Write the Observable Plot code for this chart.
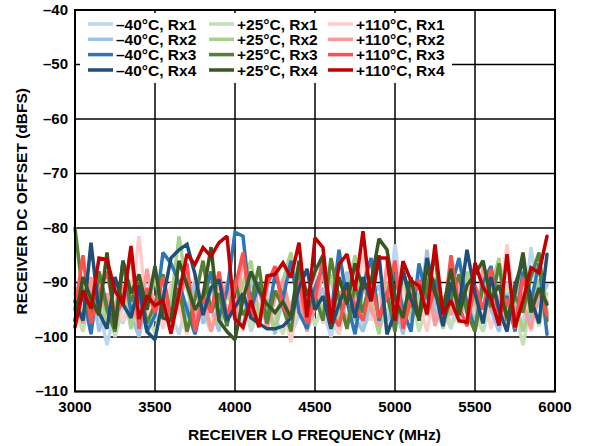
<!DOCTYPE html>
<html>
<head>
<meta charset="utf-8">
<script src="https://cdn.jsdelivr.net/npm/d3@7"></script>
<script src="https://cdn.jsdelivr.net/npm/@observablehq/plot@0.6"></script>
<style>
  html, body { margin: 0; padding: 0; background: #fff; }
  svg { display: block; }
</style>
</head>
<body>
<div id="chart"></div>
<script>
// LO frequency sample points (MHz)
const freqs = d3.range(3000, 6000, 50);

const seriesNames = ["–40°C, Rx1","–40°C, Rx2","–40°C, Rx3","–40°C, Rx4",
                     "+25°C, Rx1","+25°C, Rx2","+25°C, Rx3","+25°C, Rx4",
                     "+110°C, Rx1","+110°C, Rx2","+110°C, Rx3","+110°C, Rx4"];
const seriesColors = ["#bdd7ee","#9dc3e6","#2e75b6","#1f4e79",
                      "#c5e0b4","#a9d18e","#548235","#385723",
                      "#ffcccc","#ff9999","#ff5050","#c00000"];

const xTicks = [3000, 3500, 4000, 4500, 5000, 5500, 6000];
const yTicks = [-110, -100, -90, -80, -70, -60, -50, -40];

// DC offset (dBFS) per series
const m40rx1 = [-96.5,-93.0,-98.0,-94.5,-101.5,-95.0,-97.5,-92.0,-99.0,-94.0,
  -97.0,-91.5,-96.0,-99.5,-93.5,-97.0,-95.5,-90.5,-98.0,-94.0,
  -96.5,-92.5,-99.0,-95.0,-91.0,-97.5,-94.5,-99.5,-96.0,-92.5,
  -97.5,-95.0,-100.0,-93.5,-96.5,-91.5,-98.5,-95.5,-93.0,-97.0,
  -83.0,-94.0,-96.5,-88.5,-93.0,-97.5,-95.0,-98.5,-92.0,-96.0,
  -94.5,-99.0,-93.5,-97.0,-90.0,-95.5,-98.0,-83.5,-94.0,-96.5];
const m40rx2 = [-92.0,-97.5,-89.5,-99.0,-94.0,-98.5,-91.5,-96.0,-100.0,-93.0,
  -88.5,-95.5,-98.0,-92.0,-96.5,-90.0,-97.5,-94.5,-99.0,-91.0,
  -95.0,-98.5,-89.0,-96.0,-93.5,-99.5,-92.0,-95.5,-87.5,-97.0,
  -94.0,-91.0,-98.0,-95.5,-88.0,-96.5,-99.0,-93.0,-90.5,-97.0,
  -94.5,-99.5,-92.5,-96.0,-84.0,-95.0,-98.0,-91.5,-96.5,-93.0,
  -97.5,-89.5,-95.0,-99.0,-92.0,-96.5,-85.0,-97.0,-93.5,-90.5];
const m40rx3 = [-97.0,-92.0,-99.5,-88.0,-94.5,-98.0,-86.0,-95.5,-92.0,-99.0,
  -96.0,-84.5,-86.5,-90.0,-95.0,-99.5,-93.0,-88.0,-96.5,-91.5,
  -80.8,-81.5,-95.0,-90.0,-97.5,-88.5,-93.0,-86.0,-95.5,-98.5,
  -91.0,-87.0,-96.0,-84.0,-93.5,-99.5,-90.5,-85.5,-97.0,-92.0,
  -88.5,-95.0,-99.0,-86.5,-93.0,-89.5,-97.5,-91.0,-85.5,-94.0,
  -98.5,-90.0,-87.0,-95.5,-92.5,-99.0,-88.0,-93.5,-86.5,-99.5];
const m40rx4 = [-93.5,-97.0,-82.7,-95.5,-98.5,-89.0,-94.0,-96.5,-90.5,-99.0,
  -100.5,-93.0,-85.5,-84.0,-83.0,-88.5,-96.0,-91.0,-89.5,-97.0,
  -94.5,-92.0,-96.5,-97.5,-98.5,-98.5,-98.0,-96.5,-91.0,-87.5,
  -95.0,-92.5,-98.5,-94.0,-90.0,-96.5,-89.0,-93.5,-85.0,-99.5,
  -95.5,-88.0,-93.0,-96.5,-85.5,-91.5,-98.0,-90.0,-94.5,-84.0,
  -92.0,-97.5,-89.0,-95.0,-99.0,-90.5,-86.0,-93.0,-97.5,-84.8];
const p25rx1 = [-95.0,-99.0,-91.5,-97.0,-93.5,-100.0,-94.5,-89.5,-97.5,-95.0,
  -99.5,-92.0,-96.5,-94.0,-98.0,-91.0,-95.5,-99.0,-93.0,-97.0,
  -95.5,-90.0,-98.5,-94.5,-92.0,-96.5,-99.5,-93.5,-95.5,-91.5,
  -98.0,-94.0,-96.5,-99.5,-92.5,-97.0,-94.5,-90.5,-98.5,-95.0,
  -93.0,-97.5,-91.5,-99.0,-94.0,-96.5,-92.5,-98.0,-95.5,-90.0,
  -96.0,-99.0,-93.5,-97.5,-91.0,-95.0,-101.5,-94.0,-98.0,-92.0];
const p25rx2 = [-91.0,-96.5,-93.0,-88.5,-97.5,-94.0,-90.5,-98.5,-92.5,-95.0,
  -89.0,-96.0,-93.5,-81.5,-91.0,-97.0,-94.5,-88.0,-98.0,-92.0,
  -95.5,-90.0,-86.0,-96.5,-93.0,-99.0,-89.5,-84.5,-94.0,-97.5,
  -91.5,-95.5,-88.5,-98.0,-92.5,-85.0,-96.0,-93.5,-99.5,-90.0,
  -94.5,-87.5,-97.0,-92.0,-95.5,-89.0,-98.5,-93.5,-96.0,-88.0,
  -94.0,-97.5,-91.0,-85.5,-96.5,-92.5,-99.0,-94.0,-89.5,-95.5];
const p25rx3 = [-80.0,-92.5,-97.0,-88.0,-95.0,-99.0,-86.5,-93.5,-90.0,-97.5,
  -94.0,-88.5,-96.5,-91.0,-99.0,-93.0,-86.0,-95.5,-92.0,-98.0,
  -89.5,-96.0,-93.5,-87.0,-97.5,-91.5,-94.5,-99.0,-88.0,-95.0,
  -92.5,-97.0,-85.5,-93.0,-98.5,-90.5,-95.5,-89.0,-96.5,-92.0,
  -99.0,-87.5,-94.0,-96.5,-91.0,-85.0,-97.5,-93.0,-88.5,-95.5,
  -99.0,-90.5,-94.5,-86.5,-97.0,-92.5,-95.5,-89.0,-84.5,-97.0];
const p25rx4 = [-97.0,-89.0,-93.0,-96.0,-84.5,-98.5,-86.0,-92.0,-88.5,-95.0,
  -87.0,-96.5,-97.0,-86.0,-90.5,-95.0,-92.5,-83.5,-97.0,-99.0,
  -100.5,-93.0,-88.0,-91.5,-94.0,-95.5,-93.5,-96.5,-86.0,-92.5,
  -88.0,-85.0,-98.0,-89.0,-94.0,-86.5,-91.0,-90.0,-82.0,-84.0,
  -93.0,-96.5,-89.0,-97.0,-87.0,-92.0,-95.0,-87.5,-96.0,-90.5,
  -88.5,-86.0,-93.0,-90.5,-96.5,-92.0,-84.5,-95.5,-91.0,-94.0];
const p110rx1 = [-97.5,-93.0,-99.0,-90.5,-95.5,-92.0,-97.0,-94.5,-81.5,-96.0,
  -92.5,-98.5,-90.0,-95.0,-99.5,-88.5,-94.0,-97.5,-91.0,-96.5,
  -93.0,-99.0,-89.0,-95.5,-92.5,-98.0,-94.0,-101.0,-91.5,-96.0,
  -88.5,-97.5,-93.5,-99.5,-90.5,-95.0,-84.5,-97.0,-92.0,-98.5,
  -94.5,-90.0,-96.5,-93.5,-99.0,-91.0,-95.5,-88.0,-97.5,-93.0,
  -96.5,-90.5,-98.5,-94.0,-83.0,-95.5,-92.0,-99.0,-89.5,-95.0];
const p110rx2 = [-93.0,-97.5,-89.0,-95.0,-92.0,-98.5,-90.5,-94.5,-97.0,-87.5,
  -95.5,-91.5,-98.0,-93.5,-88.5,-96.5,-92.0,-99.0,-94.0,-90.0,
  -97.0,-85.0,-95.5,-91.0,-98.5,-93.0,-89.5,-96.0,-92.5,-99.0,
  -94.5,-88.0,-96.5,-91.5,-97.5,-93.0,-90.0,-95.0,-98.0,-86.5,
  -93.5,-97.0,-91.0,-95.5,-88.5,-98.0,-92.5,-96.0,-90.0,-94.5,
  -99.0,-87.0,-95.0,-92.5,-97.5,-90.5,-94.0,-98.5,-91.5,-93.5];
const p110rx3 = [-95.0,-85.0,-97.5,-92.0,-88.0,-96.0,-93.5,-84.0,-98.5,-91.0,
  -95.5,-89.0,-97.0,-93.0,-86.5,-99.0,-92.5,-95.5,-88.0,-96.5,
  -91.0,-84.5,-95.0,-98.0,-90.5,-87.0,-94.5,-96.5,-89.5,-97.5,
  -93.0,-85.5,-95.5,-98.0,-91.5,-94.0,-97.0,-90.0,-96.5,-92.5,
  -86.0,-98.5,-93.0,-89.5,-96.0,-91.0,-97.5,-85.0,-94.5,-98.0,
  -90.5,-95.0,-87.5,-96.5,-93.0,-98.5,-89.0,-94.0,-91.5,-96.0];
const p110rx4 = [-98.2,-91.5,-94.8,-85.5,-85.8,-91.5,-94.0,-83.3,-96.7,-92.4,
  -94.2,-93.3,-99.4,-92.0,-84.8,-86.7,-83.6,-85.2,-82.7,-81.5,
  -96.7,-98.2,-93.3,-98.2,-88.8,-88.5,-86.4,-89.1,-82.7,-96.4,
  -81.8,-83.6,-97.6,-86.7,-84.8,-91.5,-80.6,-93.3,-85.5,-85.5,
  -97.0,-86.1,-89.7,-90.6,-95.8,-83.0,-95.8,-93.3,-97.0,-97.3,
  -86.4,-90.9,-93.0,-97.9,-84.8,-98.2,-93.3,-87.3,-88.2,-81.5];

const seriesValues = [m40rx1, m40rx2, m40rx3, m40rx4,
                      p25rx1, p25rx2, p25rx3, p25rx4,
                      p110rx1, p110rx2, p110rx3, p110rx4];

// draw order: all Rx1 first, then Rx2, Rx3, Rx4 (darker traces on top)
const drawOrder = [0, 4, 8, 1, 5, 9, 2, 6, 10, 3, 7, 11];
const rows = drawOrder.flatMap(k =>
  seriesValues[k].map((v, i) => ({freq: freqs[i], dc: v, series: seriesNames[k]})));

const FONT = "'Liberation Sans', Arial, Helvetica, sans-serif";
const W = 590, H = 446;
const mL = 74.5, mR = 35.5, mT = 9.5, mB = 55;

const fmtY = d => d < 0 ? "\u2013" + Math.abs(d) : String(d);

const svg = Plot.plot({
  width: W, height: H,
  marginLeft: mL, marginRight: mR, marginTop: mT, marginBottom: mB,
  style: {fontFamily: FONT, fontSize: "15px", fontWeight: "bold", color: "#000", background: "#fff"},
  x: {domain: [3000, 6000], label: null},
  y: {domain: [-110, -40], label: null},
  color: {domain: seriesNames, range: seriesColors},
  marks: [
    Plot.gridX(xTicks, {stroke: "#000", strokeOpacity: 1, strokeWidth: 1.5}),
    Plot.gridY(yTicks, {stroke: "#000", strokeOpacity: 1, strokeWidth: 1.5}),
    Plot.lineY(rows, {x: "freq", y: "dc", z: "series", stroke: "series", strokeWidth: 3.5, strokeLinejoin: "miter", strokeMiterlimit: 2}),
    Plot.frame({stroke: "#000", strokeWidth: 2}),
    Plot.axisX(xTicks, {tickSize: 0, tickPadding: 10, tickFormat: d => String(d), label: null, fontSize: 15, fontWeight: "bold"}),
    Plot.axisY(yTicks, {tickSize: 0, tickPadding: 7, tickFormat: fmtY, label: null, fontSize: 15, fontWeight: "bold"})
  ]
});

const sel = d3.select(svg);
// axis titles
sel.append("text")
  .attr("x", (mL + (W - mR)) / 2).attr("y", 440)
  .attr("text-anchor", "middle")
  .attr("font-family", FONT).attr("font-weight", "bold").attr("font-size", 15.5)
  .attr("fill", "#000")
  .text("RECEIVER LO FREQUENCY (MHz)");
sel.append("text")
  .attr("transform", `translate(27,${(mT + (H - mB)) / 2 + 1}) rotate(-90)`)
  .attr("text-anchor", "middle")
  .attr("font-family", FONT).attr("font-weight", "bold").attr("font-size", 15.5)
  .attr("fill", "#000")
  .text("RECEIVER DC OFFSET (dBFS)");

// legend
const lg = sel.append("g").attr("text-anchor", "start");
lg.append("rect").attr("x", 80).attr("y", 13).attr("width", 372).attr("height", 70).attr("fill", "#fff");
const colX = [88, 209, 328];
const rowY = [24, 39.3, 54.6, 70];
seriesNames.forEach((name, k) => {
  const c = Math.floor(k / 4), r = k % 4;
  const x0 = colX[c], y0 = rowY[r];
  lg.append("line").attr("x1", x0).attr("x2", x0 + 25).attr("y1", y0).attr("y2", y0)
    .attr("stroke", seriesColors[k]).attr("stroke-width", 3.5);
  lg.append("text").attr("x", x0 + 28).attr("y", y0).attr("dy", "0.36em")
    .attr("text-anchor", "start")
    .attr("font-family", FONT).attr("font-weight", "bold").attr("font-size", 15.5)
    .attr("fill", "#000").text(name);
});

document.getElementById("chart").appendChild(svg);
</script>
</body>
</html>
